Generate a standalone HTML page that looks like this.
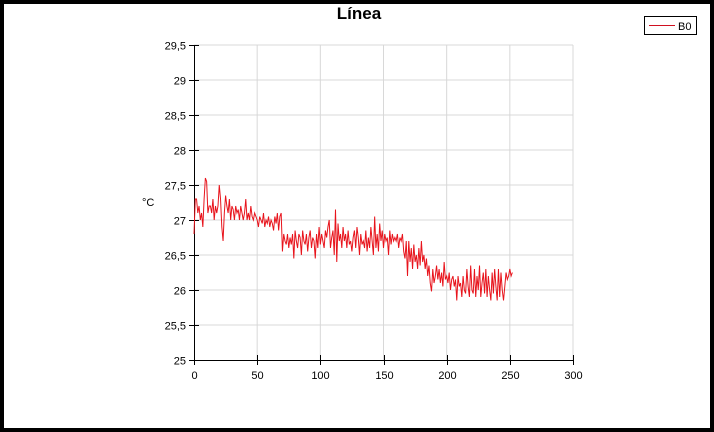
<!DOCTYPE html>
<html><head><meta charset="utf-8"><style>
html,body{margin:0;padding:0;background:#000;}
#wrap{position:absolute;left:0;top:0;width:714px;height:432px;background:#000;}
#inner{position:absolute;left:4px;top:4px;width:706px;height:424px;background:#fff;}
svg{position:absolute;left:0;top:0;}
text{font-family:"Liberation Sans",sans-serif;}
</style></head><body>
<div id="wrap"><div id="inner"></div>
<svg id="chart" width="714" height="432"></svg></div>
<script>
const xTicks=[0,50,100,150,200,250,300];
const yTicks=[25,25.5,26,26.5,27,27.5,28,28.5,29,29.5];
const yTickLabels=["25","25,5","26","26,5","27","27,5","28","28,5","29","29,5"];
const seriesName="B0";
const values=[
26.8,27.3,27.3,27.1,27.2,27.0,27.1,26.9,27.3,27.6,27.55,27.1,27.2,27.2,27.1,27.3,27.0,27.2,27.1,27.2,27.5,27.3,26.9,26.7,27.1,27.35,27.2,27.1,27.3,27.0,
27.2,27.15,27.0,27.2,27.1,27.15,27.0,27.2,27.1,27.0,27.1,27.3,27.0,27.1,27.0,27.2,27.05,27.0,27.1,27.05,27.0,26.9,27.05,27.0,26.95,27.1,26.9,27.0,26.95,27.05,
26.9,27.0,26.95,26.85,27.05,26.95,27.1,26.85,27.05,27.1,26.55,26.8,26.7,26.65,26.8,26.6,26.75,26.65,26.8,26.45,26.85,26.7,26.6,26.8,26.75,26.5,26.85,26.7,26.65,26.8,
26.55,26.75,26.85,26.6,26.75,26.7,26.45,26.8,26.6,26.9,26.65,26.8,26.7,26.6,26.85,26.75,26.9,27.0,26.6,26.75,26.85,26.5,27.15,26.4,26.95,26.7,26.8,26.6,26.9,26.7,
26.8,26.6,26.85,26.65,26.7,26.55,26.75,26.85,26.6,26.9,26.75,26.5,26.8,26.65,26.7,26.6,26.85,26.55,26.75,26.6,26.9,26.7,26.5,27.05,26.6,26.8,26.55,26.95,26.7,26.85,
26.6,26.8,26.7,26.75,26.5,26.85,26.65,26.8,26.7,26.75,26.7,26.8,26.6,26.75,26.7,26.8,26.55,26.45,26.7,26.2,26.7,26.4,26.6,26.3,26.65,26.4,26.5,26.3,26.6,26.35,
26.7,26.4,26.5,26.3,26.45,26.2,26.35,26.1,25.98,26.3,26.1,26.2,26.35,26.15,26.3,26.1,26.25,26.05,26.4,26.15,26.2,26.1,26.25,26.0,26.15,26.2,26.05,26.15,25.85,26.2,
26.05,26.1,25.9,26.2,26.0,25.95,26.3,26.05,25.9,26.35,26.0,25.95,26.3,25.9,26.2,26.0,26.35,25.9,26.1,26.25,25.95,26.3,25.9,26.2,26.0,25.85,26.25,25.95,26.3,26.05,
25.85,26.3,25.9,26.25,26.0,25.85,26.05,26.25,26.15,26.2,26.3,26.2,26.25
];
const X0=194,X1=573,Y0=360,Y1=45;
const xs=v=>X0+(v-0)/(300-0)*(X1-X0);
const ys=v=>Y0-(v-25)/(29.5-25)*(Y0-Y1);
const NS="http://www.w3.org/2000/svg";
const svg=document.getElementById('chart');
function mk(t,a){const e=document.createElementNS(NS,t);for(const k in a)e.setAttribute(k,a[k]);svg.appendChild(e);return e;}
xTicks.forEach(t=>{if(t===0)return;const l=mk('line',{x1:xs(t),x2:xs(t),y1:Y1,y2:Y0,stroke:'#d8d8d8','stroke-width':1});

});
yTicks.forEach(t=>{if(t===25)return;const l=mk('line',{x1:X0,x2:X1,y1:ys(t),y2:ys(t),stroke:'#d8d8d8','stroke-width':1});

});
const ya=mk('line',{x1:X0+0.5,x2:X0+0.5,y1:Y1,y2:Y0,stroke:'#000'});


const xa=mk('line',{x1:X0,x2:X1,y1:Y0+0.5,y2:Y0+0.5,stroke:'#000'});


yTicks.forEach((t,i)=>{const y=Math.round(ys(t))+0.5;
const tk=mk('line',{x1:X0-5,x2:X0+5,y1:y,y2:y,stroke:'#000'});


const tx=mk('text',{x:X0-8,y:y+4,'text-anchor':'end','font-size':11,fill:'#000'});tx.textContent=yTickLabels[i];

});
xTicks.forEach(t=>{const x=Math.round(xs(t))+0.5;
const tk=mk('line',{x1:x,x2:x,y1:Y0-5,y2:Y0+5,stroke:'#000'});


const tx=mk('text',{x:x,y:Y0+19,'text-anchor':'middle','font-size':11,fill:'#000'});tx.textContent=String(t);

});
const pts=values.map((v,i)=>xs(i).toFixed(2)+','+ys(v).toFixed(2)).join(' ');
const pl=mk('polyline',{points:pts,fill:'none',stroke:'#e8141c','stroke-width':1});


const ti=mk('text',{x:359,y:19,'text-anchor':'middle','font-size':17,'font-weight':'bold',fill:'#000'});ti.textContent='Línea';


const yl=mk('text',{x:142,y:206,'font-size':11,fill:'#000'});yl.textContent='°C';


const lb=mk('rect',{x:644.5,y:16.5,width:52,height:18,fill:'#fff',stroke:'#000'});


const ll=mk('line',{x1:649,x2:675,y1:25.5,y2:25.5,stroke:'#d01020','stroke-width':1});


const lt=mk('text',{x:678,y:30,'font-size':11,fill:'#000'});lt.textContent=seriesName;


</script>
</body></html>
